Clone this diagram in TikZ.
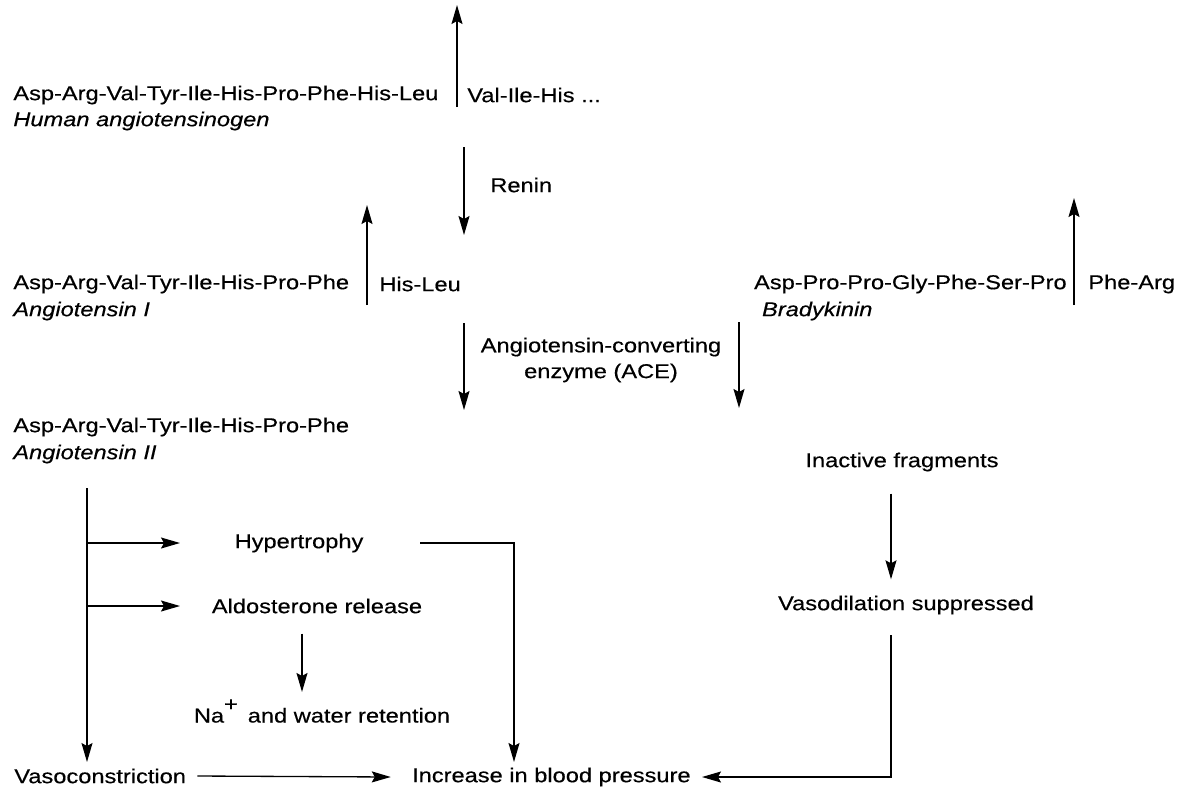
\documentclass[tikz,border=0pt]{standalone}
\usepackage{fontspec}
\setmainfont{Liberation Sans}[FakeStretch=1.18, FakeBold=0.4]
\usetikzlibrary{arrows.meta, positioning}

\begin{document}
\begin{tikzpicture}[
    x=0.02cm, y=-0.02cm,
    every node/.style={font=\fontsize{11.4}{14.7}\selectfont, inner sep=0pt},
    seq/.style={anchor=west},
    pname/.style={anchor=west, font=\fontsize{11.4}{14.7}\selectfont\itshape},
    effect/.style={anchor=center},
    line/.style={draw, line width=0.75pt, -{Stealth[length=3.8mm, width=2.2mm, inset=0.6mm]}},
    plain/.style={draw, line width=0.75pt}
]
    \useasboundingbox (0,0) rectangle (1193,795);

    % Angiotensinogen
    \node [seq] (agen) at (13,95) {Asp-Arg-Val-Tyr-Ile-His-Pro-Phe-His-Leu};
    \node [pname, below=0.52cm of agen.west, anchor=west] (agenname) {Human angiotensinogen};
    \node [seq] (agenrest) at (467,95) {Val-Ile-His ...};
    \coordinate (cut1) at (457,107);
    \coordinate (cut1top) at (457,5);

    % Renin step
    \coordinate (renin1) at (464,147);
    \coordinate (renin2) at (464,235);
    \node [seq] (renin) at (490,185) {Renin};

    % Angiotensin I
    \node [seq] (ang1) at (13,284) {Asp-Arg-Val-Tyr-Ile-His-Pro-Phe};
    \node [pname, below=0.54cm of ang1.west, anchor=west] (ang1name) {Angiotensin I};
    \node [seq] (hisleu) at (379,284) {His-Leu};
    \coordinate (cut2) at (367,305);
    \coordinate (cut2top) at (367,205);

    % Bradykinin
    \node [seq, anchor=east] (brady) at (1067,284) {Asp-Pro-Pro-Gly-Phe-Ser-Pro};
    \node [pname, below=0.54cm of brady.west, anchor=west, xshift=0.16cm] (bradyname) {Bradykinin};
    \node [seq] (phearg) at (1088,284) {Phe-Arg};
    \coordinate (cut3) at (1074,305);
    \coordinate (cut3top) at (1074,198);

    % ACE step
    \coordinate (ace1) at (464,323);
    \coordinate (ace2) at (464,410);
    \coordinate (ace3) at (739,322);
    \coordinate (ace4) at (739,408);
    \node [effect, align=center] (ace) at (601,360) {Angiotensin-converting\\enzyme (ACE)};

    % Angiotensin II
    \node [seq] (ang2) at (13,427) {Asp-Arg-Val-Tyr-Ile-His-Pro-Phe};
    \node [pname, below=0.54cm of ang2.west, anchor=west] (ang2name) {Angiotensin II};

    % Bradykinin branch
    \node [effect] (frag) at (902,462) {Inactive fragments};
    \node [effect] (vasodil) at (906,605) {Vasodilation suppressed};

    % Angiotensin II effects
    \node [effect] (hyper) at (299,543) {Hypertrophy};
    \node [effect] (aldo) at (317,606) {Aldosterone release};
    \node [effect] (natr) at (322,711) {Na\raisebox{1.1ex}{+}\, and water retention};
    \node [seq] (vasoc) at (14,776) {Vasoconstriction};
    \node [seq, anchor=east] (bp) at (691,777) {Increase in blood pressure};

    \coordinate (trunk) at (87,488);
    \coordinate (trunkend) at (87,762);
    \coordinate (branch1) at (87,543);
    \coordinate (branch2) at (87,606);
    \coordinate (hyperout) at (420,543);
    \coordinate (bpin) at (514,762);
    \coordinate (vasodilout) at (891,635);

    % Connect nodes
    \path [line] (cut1) -- (cut1top);
    \path [line] (renin1) -- (renin2);
    \path [line] (cut2) -- (cut2top);
    \path [line] (cut3) -- (cut3top);
    \path [line] (ace1) -- (ace2);
    \path [line] (ace3) -- (ace4);
    \path [line] (trunk) -- (trunkend);
    \path [line] (branch1) -- (hyper.west -| 180,0);
    \path [line] (branch2) -- (aldo.west -| 180,0);
    \path [line] (hyperout) -| (bpin);
    \path [line] ([yshift=-0.4cm]aldo.south -| 302,0) -- ([yshift=0.14cm]natr.north -| 302,0);
    \path [line] ([xshift=0.22cm]vasoc.east) -- ([xshift=-0.42cm]bp.west);
    \path [line] ([yshift=-0.44cm]frag.south -| 891,0) -- ([yshift=0.32cm]vasodil.north -| 891,0);
    \path [line] (vasodilout) |- ([xshift=0.22cm]bp.east);

\end{tikzpicture}
\end{document}
